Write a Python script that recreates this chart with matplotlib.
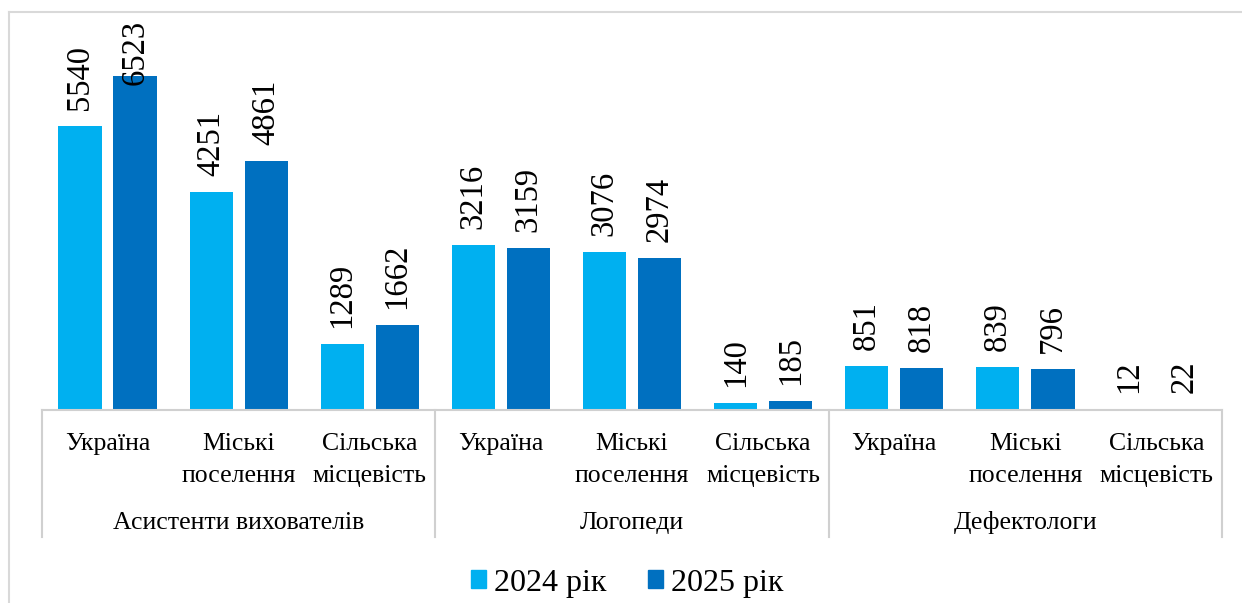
import matplotlib.pyplot as plt
from matplotlib.patches import Patch
from matplotlib.lines import Line2D

plt.rcParams['font.family'] = ['Liberation Serif', 'DejaVu Serif']

# data
groups = ['Асистенти вихователів', 'Логопеди', 'Дефектологи']
subcats = ['Україна', 'Міські\nпоселення', 'Сільська\nмісцевість']
series_names = ['2024 рік', '2025 рік']
vals_2024 = [5540, 4251, 1289, 3216, 3076, 140, 851, 839, 12]
vals_2025 = [6523, 4861, 1662, 3159, 2974, 185, 818, 796, 22]
colors = ['#00B0F0', '#0070C0']

W, H = 1242, 603
fig = plt.figure(figsize=(W / 100, H / 100), dpi=100)

# outer chart frame (light grey, cut by the image edge at right/bottom)
frame_c = '#D9D9D9'
fig.add_artist(Line2D([9 / W, 9 / W], [0, 1 - 12 / H], color=frame_c, lw=1.5))
fig.add_artist(Line2D([9 / W, 1], [1 - 12 / H, 1 - 12 / H], color=frame_c, lw=1.5))

x0, x1, ybase, ytop = 42, 1222, 410, 16
ax = fig.add_axes([x0 / W, (H - ybase) / H, (x1 - x0) / W, (ybase - ytop) / H])
ymax = 6523 * (ybase - ytop) / (ybase - 76)
n = len(vals_2024)
ax.set_xlim(0, n)
ax.set_ylim(0, ymax)
ax.axis('off')

bw = 0.33
offs = [-0.21, 0.21]
px_per_unit = (ybase - ytop) / ymax
label_len = 68 / px_per_unit
gap = 16 / px_per_unit
for s, vals in enumerate([vals_2024, vals_2025]):
    xs = [i + 0.5 + offs[s] for i in range(n)]
    ax.bar(xs, vals, width=bw, color=colors[s], label=series_names[s])
    for x, v in zip(xs, vals):
        if v + gap + label_len > ymax:
            ax.text(x, ymax - 4 / px_per_unit, str(v), rotation=90, ha='center',
                    va='top', fontsize=23.5)
        else:
            ax.text(x, v + gap, str(v), rotation=90, ha='center', va='bottom',
                    fontsize=23.5)

# multi-level category axis
axis_c = '#D0D0D0'
ax.plot([0, n], [0, 0], color=axis_c, lw=1.5, clip_on=False)
sep_bottom = -(537 - ybase) / px_per_unit
for k in range(0, n + 1, 3):
    ax.plot([k, k], [0, sep_bottom], color=axis_c, lw=1.5, clip_on=False)
for i in range(n):
    ax.text(i + 0.5, -(433 - ybase) / px_per_unit, subcats[i % 3], ha='center',
            va='top', fontsize=18.5, linespacing=1.6)
for g, name in enumerate(groups):
    ax.text(g * 3 + 1.5, -(523 - ybase) / px_per_unit, name, ha='center',
            va='center', fontsize=18.5)

handles = [Patch(color=c) for c in colors]
fig.legend(handles, series_names, loc='center', bbox_to_anchor=(0.5 + 6 / W, (H - 583) / H),
           ncol=2, frameon=False, fontsize=23, handlelength=0.47, handleheight=0.47,
           handletextpad=0.25, columnspacing=1.3)

fig.savefig('out.png', dpi=100)
